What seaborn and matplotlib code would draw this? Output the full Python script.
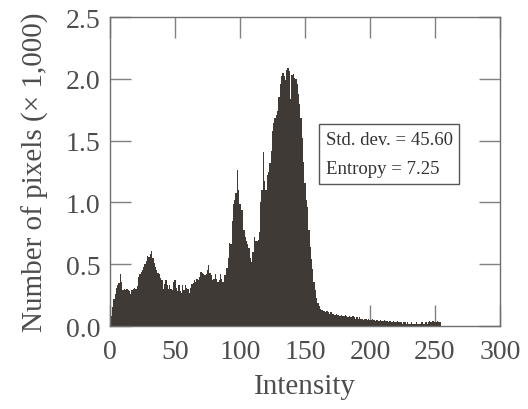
import numpy as np
import pandas as pd
import matplotlib
matplotlib.use("Agg")
import matplotlib.pyplot as plt
import seaborn as sns

# ── Data: pixel counts (x 1,000) per intensity level 0..255 ─────────────────
intensity = np.arange(256)
counts = [
    0.02, 0.08, 0.15, 0.22, 0.26, 0.31, 0.33, 0.35, 0.42, 0.36,   # 0-9
    0.29, 0.30, 0.29, 0.30, 0.29, 0.28, 0.26, 0.29, 0.30, 0.31,   # 10-19
    0.30, 0.32, 0.40, 0.42, 0.44, 0.45, 0.48, 0.50, 0.53, 0.57,   # 20-29
    0.56, 0.58, 0.61, 0.55, 0.51, 0.48, 0.45, 0.43, 0.42, 0.39,   # 30-39
    0.37, 0.30, 0.34, 0.37, 0.33, 0.30, 0.33, 0.30, 0.29, 0.36,   # 40-49
    0.37, 0.31, 0.28, 0.33, 0.28, 0.27, 0.33, 0.29, 0.33, 0.31,   # 50-59
    0.30, 0.27, 0.31, 0.34, 0.35, 0.37, 0.36, 0.38, 0.37, 0.40,   # 60-69
    0.44, 0.43, 0.42, 0.41, 0.42, 0.45, 0.49, 0.43, 0.41, 0.37,   # 70-79
    0.38, 0.42, 0.38, 0.36, 0.37, 0.42, 0.38, 0.36, 0.41, 0.41,   # 80-89
    0.47, 0.55, 0.67, 0.66, 0.85, 0.99, 1.02, 1.08, 1.26, 1.10,   # 90-99
    0.99, 0.94, 0.94, 0.78, 0.72, 0.69, 0.66, 0.63, 0.55, 0.52,   # 100-109
    0.60, 0.72, 0.69, 0.69, 0.70, 0.76, 1.00, 1.10, 1.41, 1.17,   # 110-119
    1.10, 1.22, 1.25, 1.32, 1.42, 1.58, 1.64, 1.68, 1.71, 1.74,   # 120-129
    1.85, 1.96, 2.02, 2.05, 2.02, 1.99, 2.07, 2.09, 2.06, 1.84,   # 130-139
    2.03, 2.04, 2.01, 2.00, 1.96, 1.88, 1.80, 1.68, 1.52, 1.33,   # 140-149
    1.16, 1.02, 0.96, 0.78, 0.64, 0.54, 0.46, 0.36, 0.29, 0.23,   # 150-159
    0.19, 0.16, 0.14, 0.13, 0.12, 0.12, 0.11, 0.12, 0.11, 0.10,   # 160-169
    0.11, 0.10, 0.10, 0.09, 0.10, 0.09, 0.09, 0.08, 0.09, 0.08,   # 170-179
    0.08, 0.09, 0.08, 0.07, 0.08, 0.07, 0.07, 0.08, 0.07, 0.06,   # 180-189
    0.07, 0.06, 0.07, 0.06, 0.06, 0.05, 0.06, 0.06, 0.05, 0.06,   # 190-199
    0.05, 0.05, 0.06, 0.05, 0.04, 0.05, 0.05, 0.04, 0.05, 0.04,   # 200-209
    0.04, 0.05, 0.04, 0.04, 0.03, 0.04, 0.04, 0.03, 0.04, 0.03,   # 210-219
    0.03, 0.04, 0.03, 0.03, 0.03, 0.02, 0.03, 0.03, 0.02, 0.03,   # 220-229
    0.02, 0.02, 0.03, 0.02, 0.02, 0.02, 0.03, 0.02, 0.02, 0.02,   # 230-239
    0.03, 0.02, 0.02, 0.03, 0.02, 0.03, 0.04, 0.03, 0.04, 0.04,   # 240-249
    0.03, 0.03, 0.04, 0.03, 0.03, 0.00,                           # 250-255
]
std_dev = 45.60
entropy = 7.25

df = pd.DataFrame({"Intensity": intensity, "Count": counts})

# ── Style ────────────────────────────────────────────────────────────────────
sns.set_theme(style="ticks")
plt.rcParams["font.family"] = ["Liberation Serif", "DejaVu Serif"]
text_col = "#4d4d4d"
bar_col = "#3f3a35"

fig = plt.figure(figsize=(5.28, 4.10), dpi=100)
ax = fig.add_axes([0.2083, 0.2024, 0.7386, 0.7536])

sns.histplot(data=df, x="Intensity", weights="Count", discrete=True,
             color=bar_col, alpha=1, linewidth=0, element="bars", ax=ax)

ax.set_xlim(0, 300)
ax.set_ylim(0, 2.5)
ax.set_xticks([0, 50, 100, 150, 200, 250, 300])
ax.set_yticks([0.0, 0.5, 1.0, 1.5, 2.0, 2.5])
ax.yaxis.set_major_formatter(plt.FuncFormatter(lambda v, _: f"{v:.1f}"))
ax.tick_params(direction="in", length=15, width=1, colors="#808080",
               labelcolor=text_col, labelsize=20, top=True, right=True)
ax.tick_params(axis="x", pad=9)
ax.tick_params(axis="y", pad=7)
for s in ax.spines.values():
    s.set_color("#707070")
    s.set_linewidth(1)

ax.set_xlabel("Intensity", fontsize=21, color=text_col, labelpad=7)
ax.set_ylabel("Number of pixels (\u00d7 1,000)", fontsize=21,
              color=text_col, labelpad=12)

# stats box
ax.text(0.553, 0.632, f"Std. dev. = {std_dev:.2f}\nEntropy = {entropy:.2f}",
        transform=ax.transAxes, fontsize=13.5, color="#333333",
        va="top", ha="left", linespacing=1.95,
        bbox=dict(boxstyle="square,pad=0.35", facecolor="white",
                  edgecolor="#555555", linewidth=1))

fig.savefig("out.png", dpi=100)
